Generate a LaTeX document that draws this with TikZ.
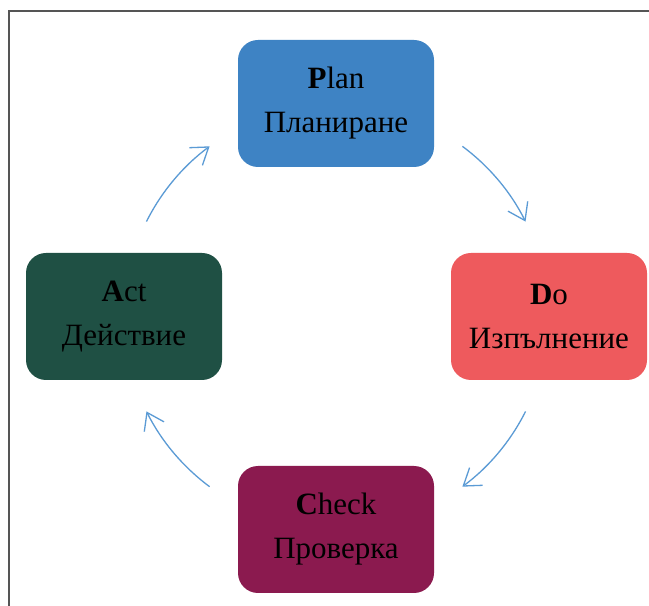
\documentclass[tikz,border=0pt]{standalone}
\usepackage{fontspec}
\setmainfont{Liberation Serif}
\usetikzlibrary{arrows.meta,calc}
\definecolor{planblue}{HTML}{3E83C4}
\definecolor{dored}{HTML}{EE5A5D}
\definecolor{actgreen}{HTML}{1F5044}
\definecolor{checkmaroon}{HTML}{8B1A4F}
\definecolor{arrowblue}{HTML}{5B9BD5}
\definecolor{framegray}{HTML}{555555}
\tikzset{
  phase/.style={rounded corners=20pt, minimum width=196pt, minimum height=127pt,
    inner sep=0pt, align=center, text=black,
    font=\fontsize{31}{44}\selectfont},
  cyc/.style={draw=arrowblue, line width=1.3pt,
    -{Straight Barb[length=16pt,width=22pt,line width=1.3pt]}},
  frameline/.style={draw=framegray, line width=1.5pt}
}
\begin{document}
\begin{tikzpicture}[x=1pt,y=1pt]
\useasboundingbox (0,0) rectangle (649,606);
\fill[white] (0,0) rectangle (649,606);
\draw[frameline] (9,0) -- (9,595) -- (649,595);
\node[phase, fill=planblue] (plan) at (336,502.5) {\textbf{P}lan\\Планиране};
\node[phase, fill=dored] (do) at (549,289.5) {\textbf{D}o\\Изпълнение};
\node[phase, fill=checkmaroon] (check) at (336,76.5) {\textbf{C}heck\\Проверка};
\node[phase, fill=actgreen] (act) at (124,289.5) {\textbf{A}ct\\Действие};
\coordinate (c) at (336,289.5);
\coordinate (a1) at ($(c)+(153.4:212)$);
\coordinate (a2) at ($(c)+(53.4:212)$);
\coordinate (a3) at ($(c)+(-26.6:212)$);
\coordinate (a4) at ($(c)+(-126.6:212)$);
\draw[cyc] (a1) arc[start angle=153.4, end angle=126.6, radius=212];
\draw[cyc] (a2) arc[start angle=53.4, end angle=26.6, radius=212];
\draw[cyc] (a3) arc[start angle=-26.6, end angle=-53.4, radius=212];
\draw[cyc] (a4) arc[start angle=-126.6, end angle=-153.4, radius=212];
\end{tikzpicture}
\end{document}
